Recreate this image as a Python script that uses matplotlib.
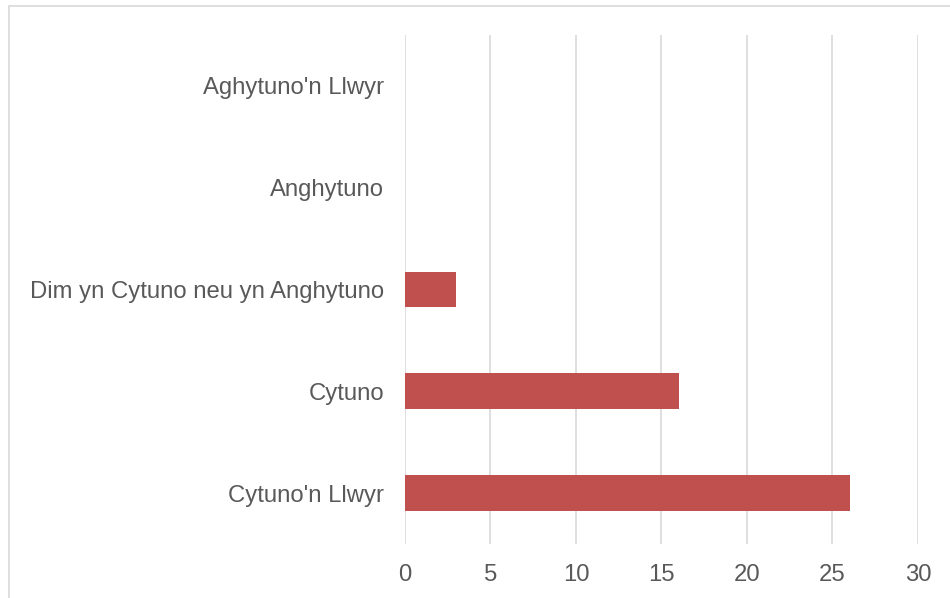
import matplotlib
matplotlib.use("Agg")
import matplotlib.pyplot as plt
from matplotlib.patches import Rectangle

categories = ["Cytuno'n Llwyr", "Cytuno", "Dim yn Cytuno neu yn Anghytuno",
              "Anghytuno", "Aghytuno'n Llwyr"]
values = [26, 16, 3, 0, 0]
x_ticks = [0, 5, 10, 15, 20, 25, 30]

plt.rcParams['font.family'] = ['Liberation Sans', 'DejaVu Sans']

fig = plt.figure(figsize=(9.5, 5.98), dpi=100)
ax = fig.add_axes([0.4263, 0.0903, 0.54, 0.8512])

# chart border (partly outside the picture)
fig.patches.append(Rectangle((8.5 / 950, -0.1), 1.2, 1.1 - 6.5 / 598,
                             transform=fig.transFigure, fill=False,
                             edgecolor='#D9D9D9', linewidth=1.2))

ypos = list(range(len(categories)))
ax.barh(ypos, values, height=0.35, color='#C0504D', zorder=3)

ax.set_xlim(0, 30)
ax.set_ylim(-0.5, len(categories) - 0.5)
ax.set_xticks(x_ticks)
ax.set_yticks(ypos)
ax.set_yticklabels(categories)
ax.grid(axis='x', color='#D9D9D9', linewidth=1.2, zorder=0)
for s in ax.spines.values():
    s.set_visible(False)
ax.tick_params(axis='both', length=0, labelsize=17.2, colors='#595959')
ax.tick_params(axis='x', pad=14.5)
ax.tick_params(axis='y', pad=15)

fig.savefig("out.png", dpi=100)
